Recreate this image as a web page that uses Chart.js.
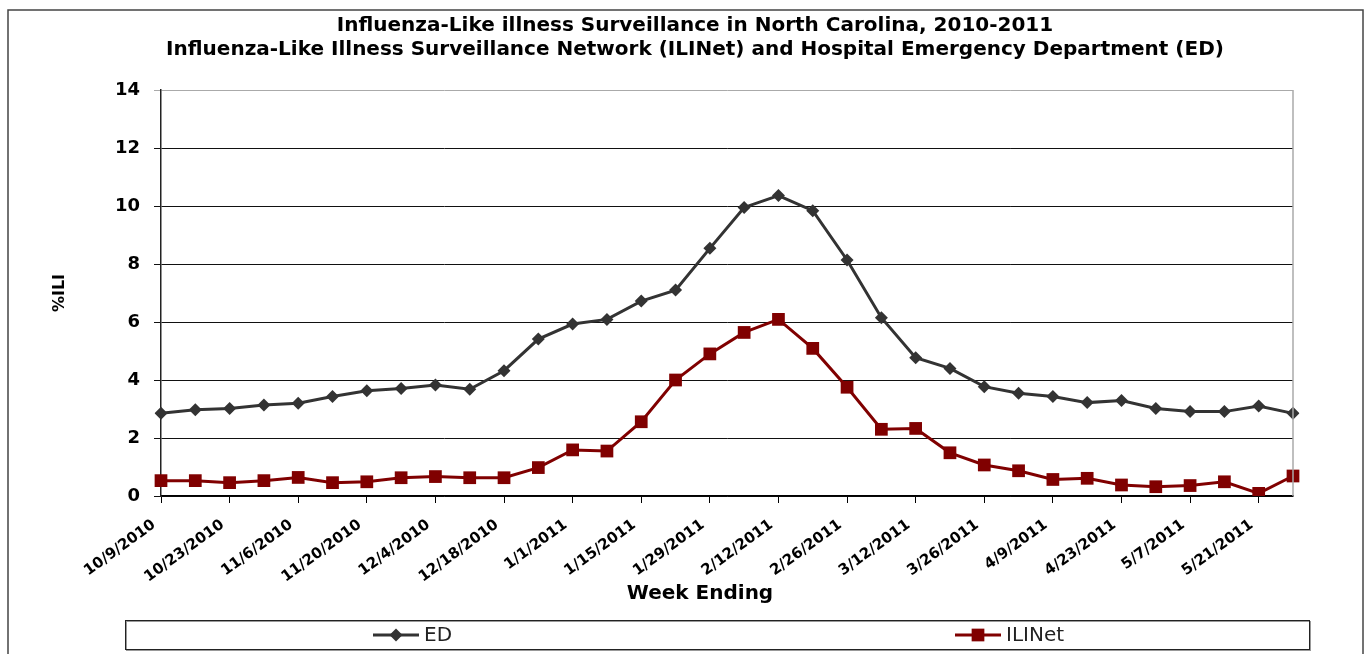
<!DOCTYPE html>
<html>
<head>
<meta charset="utf-8">
<title>Influenza-Like Illness Surveillance in North Carolina, 2010-2011</title>
<script src="https://cdn.jsdelivr.net/npm/chart.js@4.4.1/dist/chart.umd.min.js"></script>
<style>
  html, body { margin: 0; padding: 0; background: #fff; }
  #wrap { width: 1364px; height: 654px; }
</style>
</head>
<body>
<div id="wrap"><canvas id="iliChart" width="1364" height="654"></canvas></div>
<script>
// Week ending dates (one point per week)
const weeks = [
  '10/9/2010', '10/16/2010', '10/23/2010', '10/30/2010', '11/6/2010', '11/13/2010',
  '11/20/2010', '11/27/2010', '12/4/2010', '12/11/2010', '12/18/2010', '12/25/2010',
  '1/1/2011', '1/8/2011', '1/15/2011', '1/22/2011', '1/29/2011', '2/5/2011',
  '2/12/2011', '2/19/2011', '2/26/2011', '3/5/2011', '3/12/2011', '3/19/2011',
  '3/26/2011', '4/2/2011', '4/9/2011', '4/16/2011', '4/23/2011', '4/30/2011',
  '5/7/2011', '5/14/2011', '5/21/2011', '5/28/2011'
];

// % ILI, hospital emergency departments
const edValues = [
  2.85, 2.97, 3.02, 3.14, 3.2, 3.43, 3.63, 3.71, 3.83, 3.68, 4.32, 5.41,
  5.93, 6.09, 6.72, 7.1, 8.54, 9.95, 10.36, 9.84, 8.14, 6.15, 4.77, 4.4,
  3.77, 3.54, 3.43, 3.22, 3.29, 3.02, 2.91, 2.91, 3.1, 2.85
];

// % ILI, ILINet providers
const iliNetValues = [
  0.53, 0.53, 0.46, 0.53, 0.64, 0.46, 0.49, 0.63, 0.67, 0.63, 0.63, 0.98,
  1.59, 1.55, 2.56, 4.0, 4.9, 5.64, 6.09, 5.09, 3.75, 2.3, 2.33, 1.49,
  1.07, 0.87, 0.57, 0.61, 0.38, 0.32, 0.36, 0.49, 0.09, 0.69
];

const yTicks = [0, 2, 4, 6, 8, 10, 12, 14];

const titleLines = [
  'Influenza-Like illness Surveillance in North Carolina, 2010-2011',
  'Influenza-Like Illness Surveillance Network (ILINet) and Hospital Emergency Department (ED)'
];
const xTitle = 'Week Ending';

const FONT = 'DejaVu Sans, Liberation Sans, Arial, sans-serif';

// Frame round the whole picture, grey right edge of the plot, x title and the boxed legend
const framePlugin = {
  id: 'frame',
  afterLayout(chart) {
    // title is centred a little left of the canvas middle in the original
    chart.titleBlock.left = 0;
    chart.titleBlock.right = 1390;
  },
  afterDraw(chart) {
    const { ctx, chartArea } = chart;
    ctx.save();

    ctx.strokeStyle = '#444';
    ctx.lineWidth = 1.5;
    ctx.strokeRect(8, 10, 1355, 660);

    ctx.strokeStyle = '#aaa';
    ctx.lineWidth = 1.5;
    ctx.beginPath();
    ctx.moveTo(chartArea.right, chartArea.top);
    ctx.lineTo(chartArea.right, chartArea.bottom);
    ctx.stroke();

    // x axis title (sits left of the plot centre in the original)
    ctx.fillStyle = '#000';
    ctx.font = 'bold 20px ' + FONT;
    ctx.textAlign = 'center';
    ctx.textBaseline = 'middle';
    ctx.fillText(xTitle, 700, 594);

    // legend box
    ctx.strokeStyle = '#999';
    ctx.lineWidth = 1;
    ctx.strokeRect(126.5, 621.5, 1184, 29);
    ctx.strokeStyle = '#222';
    ctx.strokeRect(125.5, 620.5, 1184, 29);

    const items = [
      { ds: chart.data.datasets[0], cx: 396 },
      { ds: chart.data.datasets[1], cx: 978 }
    ];
    const ly = 635;
    items.forEach(item => {
      const ds = item.ds;
      ctx.strokeStyle = ds.borderColor;
      ctx.lineWidth = ds.borderWidth;
      ctx.beginPath();
      ctx.moveTo(item.cx - 23, ly);
      ctx.lineTo(item.cx + 23, ly);
      ctx.stroke();

      ctx.fillStyle = ds.pointBackgroundColor;
      ctx.beginPath();
      if (ds.pointStyle === 'rectRot') {
        const r = ds.pointRadius;
        ctx.moveTo(item.cx, ly - r);
        ctx.lineTo(item.cx + r, ly);
        ctx.lineTo(item.cx, ly + r);
        ctx.lineTo(item.cx - r, ly);
        ctx.closePath();
      } else {
        const h = ds.pointRadius * Math.SQRT1_2;
        ctx.rect(item.cx - h, ly - h, 2 * h, 2 * h);
      }
      ctx.fill();

      ctx.fillStyle = '#222';
      ctx.font = '20px ' + FONT;
      ctx.textBaseline = 'middle';
      ctx.textAlign = 'left';
      ctx.fillText(ds.label, item.cx + 28, ly + 1);
    });

    ctx.restore();
  }
};

const ctx = document.getElementById('iliChart');

new Chart(ctx, {
  type: 'line',
  data: {
    labels: weeks,
    datasets: [
      {
        label: 'ED',
        data: edValues,
        borderColor: '#333333',
        backgroundColor: '#333333',
        pointBackgroundColor: '#333333',
        pointBorderColor: '#333333',
        borderWidth: 3,
        pointStyle: 'rectRot',
        pointRadius: 6.5,
        pointBorderWidth: 0,
        tension: 0
      },
      {
        label: 'ILINet',
        data: iliNetValues,
        borderColor: '#800000',
        backgroundColor: '#800000',
        pointBackgroundColor: '#800000',
        pointBorderColor: '#800000',
        borderWidth: 3,
        pointStyle: 'rect',
        pointRadius: 9,
        pointBorderWidth: 0,
        tension: 0
      }
    ]
  },
  options: {
    responsive: false,
    animation: false,
    devicePixelRatio: 1,
    layout: {
      padding: { left: 20, right: 71, top: 0, bottom: 10 }
    },
    plugins: {
      legend: { display: false },
      tooltip: { enabled: false },
      title: {
        display: true,
        text: titleLines,
        color: '#000',
        font: { family: FONT, size: 20, weight: 'bold', lineHeight: 24 / 20 },
        padding: { top: 14, bottom: 28 }
      }
    },
    scales: {
      x: {
        type: 'category',
        offset: false,
        afterFit(scale) {
          scale.height = 148;
        },
        grid: {
          drawOnChartArea: false,
          drawTicks: true,
          tickLength: 7,
          color: '#000',
          lineWidth: 1
        },
        border: { color: '#000', width: 1.5 },
        ticks: {
          autoSkip: false,
          maxRotation: 36,
          minRotation: 36,
          padding: 13,
          labelOffset: -7,
          color: '#000',
          font: { family: FONT, size: 15, weight: 'bold' },
          callback: function(value, index) {
            return index % 2 === 0 ? this.getLabelForValue(value) : null;
          }
        }
      },
      y: {
        min: 0,
        max: 14,
        afterFit(scale) {
          scale.width = 141;
        },
        afterBuildTicks(scale) {
          scale.ticks = yTicks.map(v => ({ value: v }));
        },
        grid: {
          color: c => (c.tick && c.tick.value === 14 ? '#aaa' : '#111'),
          lineWidth: 1,
          tickLength: 7
        },
        border: { color: '#222', width: 1.5 },
        ticks: {
          padding: 14,
          color: '#000',
          font: { family: FONT, size: 18, weight: 'bold' }
        },
        title: {
          display: true,
          text: '%ILI',
          color: '#000',
          font: { family: FONT, size: 16, weight: 'bold' },
          padding: { top: 30, bottom: 0 }
        }
      }
    }
  },
  plugins: [framePlugin]
});
</script>
</body>
</html>
